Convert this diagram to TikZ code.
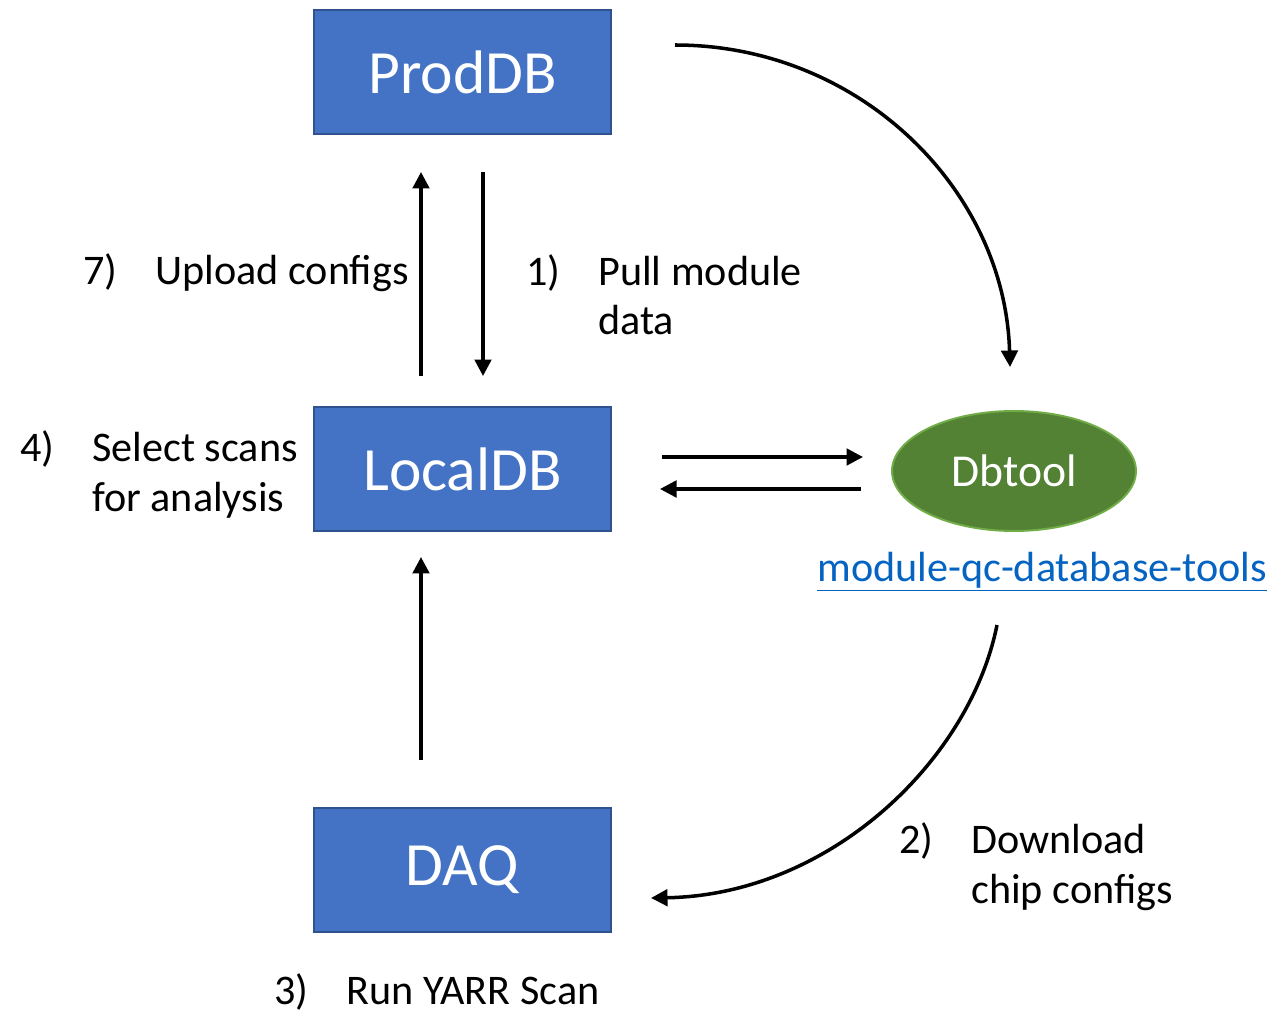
\documentclass[tikz,border=0pt]{standalone}
\usepackage{fontspec}
\setmainfont{Carlito}
\usetikzlibrary{arrows.meta,shapes.geometric}
\definecolor{boxfill}{HTML}{4472C4}
\definecolor{boxline}{HTML}{2F528F}
\definecolor{toolfill}{HTML}{548235}
\definecolor{toolline}{HTML}{70AD47}
\definecolor{linkblue}{HTML}{0563C1}
\tikzset{
  box/.style={draw=boxline,fill=boxfill,line width=1.1pt,rectangle,minimum width=5.94cm,minimum height=2.48cm,
    text=white,font=\fontsize{35}{42}\selectfont},
  tool/.style={draw=toolline,fill=toolfill,line width=1.1pt,ellipse,minimum width=4.88cm,minimum height=2.4cm,
    inner sep=0,text=white,font=\fontsize{26}{31}\selectfont},
  lbl/.style={anchor=base west,inner sep=0,align=left,font=\fontsize{24}{28.4}\selectfont},
  flow/.style={-{Triangle[length=0.33cm,width=0.33cm]},line width=2pt},
}
\newcommand{\itm}[2]{\makebox[1.44cm][l]{#1}#2}
\newcommand{\ind}{\hspace*{1.44cm}}

\begin{document}
\begin{tikzpicture}[x=0.02cm,y=-0.02cm]
\useasboundingbox (0,0) rectangle (1274,1013);
% databases and tool
\node[box] (prod) at (462.5,72) {ProdDB};
\node[box] (local) at (462.5,469) {LocalDB};
\node[box] (daq) at (462.5,870) {DAQ};
\node[tool] (dbtool) at (1014,471) {Dbtool};
\node[lbl,text=linkblue] (link) at (817,581) {\underline{module-qc-database-tools}};
% arrow ends
\coordinate (upA) at (421,376); \coordinate (upB) at (421,172);
\coordinate (dnA) at (483,172); \coordinate (dnB) at (483,376);
\coordinate (toA) at (662,457); \coordinate (toB) at (863,457);
\coordinate (frA) at (861,489); \coordinate (frB) at (660,489);
\coordinate (dqA) at (421,760); \coordinate (dqB) at (421,557);
\coordinate (c1A) at (675,45);  \coordinate (c1B) at (1010,367);
\coordinate (c2A) at (997,625); \coordinate (c2B) at (651,898);
% connectors
\draw[flow] (upA) -- (upB);
\draw[flow] (dnA) -- (dnB);
\draw[flow] (toA) -- (toB);
\draw[flow] (frA) -- (frB);
\draw[flow] (dqA) -- (dqB);
\draw[flow] (c1A) .. controls (860,45) and (1005,190) .. (c1B);
\draw[flow] (c2A) .. controls (970,760) and (830,895) .. (c2B);
% steps (base = last line)
\node[lbl] (s7) at (83,285) {\itm{7)}{Upload configs}};
\node[lbl] (s1) at (526,335) {\itm{1)}{Pull module}\\\ind data};
\node[lbl] (s4) at (20,511) {\itm{4)}{Select scans}\\\ind for analysis};
\node[lbl] (s2) at (899,903) {\itm{2)}{Download}\\\ind chip configs};
\node[lbl] (s3) at (274,1004) {\itm{3)}{Run YARR Scan}};
\end{tikzpicture}
\end{document}
